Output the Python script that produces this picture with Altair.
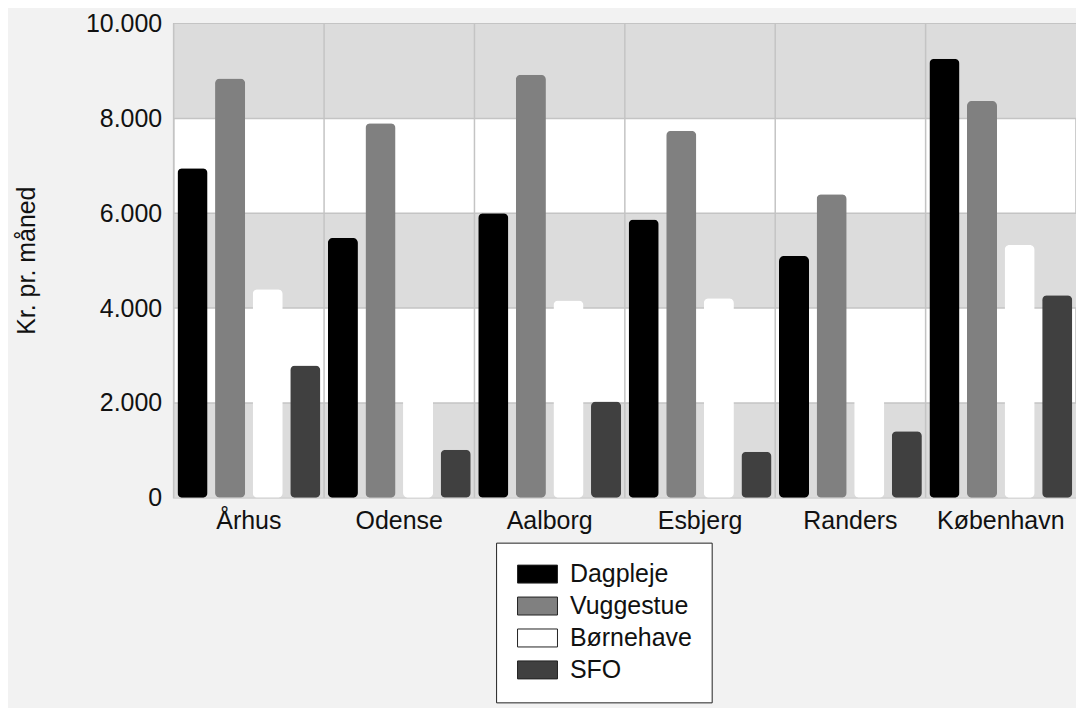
import altair as alt
import pandas as pd

cities = ["Århus", "Odense", "Aalborg", "Esbjerg", "Randers", "København"]
series = ["Dagpleje", "Vuggestue", "Børnehave", "SFO"]
dagpleje = [6950, 5480, 6000, 5870, 5100, 9260]
vuggestue = [8840, 7900, 8920, 7740, 6400, 8370]
boernehave = [4400, 3700, 4160, 4210, 3600, 5330]
sfo = [2790, 1010, 2030, 970, 1400, 4270]
colors = ["#000000", "#808080", "#ffffff", "#404040"]
band_lo = [0, 4000, 8000]
band_hi = [2000, 6000, 10000]
y_ticks = [0, 2000, 4000, 6000, 8000, 10000]
grid_vals = [2000, 4000, 6000, 8000]

W, H = 904, 475
FONT = "Liberation Sans"
FS = 25

rows = []
for s, vals in zip(series, [dagpleje, vuggestue, boernehave, sfo]):
    for c, v in zip(cities, vals):
        rows.append({"city": c, "series": s, "value": v})
df = pd.DataFrame(rows)
bands = pd.DataFrame({"lo": band_lo, "hi": band_hi})
hgrid = pd.DataFrame({"v": grid_vals})
vgrid = pd.DataFrame({"city": cities})

yscale = alt.Scale(domain=[0, 10000], nice=False)
xscale = alt.Scale(domain=cities, paddingInner=0, paddingOuter=0)

xaxis = alt.Axis(title=None, labelAngle=0, labelFontSize=FS, labelPadding=11,
                 ticks=False, domain=False, grid=False, labelColor="#111",
                 labelFont=FONT)
yaxis = alt.Axis(values=y_ticks,
                 labelExpr="replace(format(datum.value, ','), ',', '.')",
                 grid=False, ticks=False, domain=False, labelFontSize=FS,
                 labelPadding=12, labelColor="#111", labelFont=FONT,
                 title="Kr. pr. måned", titleFontSize=FS, titleFont=FONT,
                 titleFontWeight="normal", titleColor="#111",
                 titleX=-147, titleY=237, titleAlign="center",
                 titleBaseline="middle", titleAngle=270)

band_layer = alt.Chart(bands).mark_rect(color="#dcdcdc").encode(
    x=alt.value(0), x2=alt.value(W),
    y=alt.Y("lo:Q", scale=yscale, axis=yaxis),
    y2="hi:Q",
)

hrule = alt.Chart(hgrid).mark_rule(color="#c4c4c4", strokeWidth=1.5).encode(
    x=alt.value(0), x2=alt.value(W),
    y=alt.Y("v:Q", scale=yscale, axis=yaxis),
)

vrule = alt.Chart(vgrid).mark_rule(color="#c4c4c4", strokeWidth=1.5).encode(
    x=alt.X("city:N", sort=cities, scale=xscale, axis=xaxis, bandPosition=0),
    y=alt.value(0), y2=alt.value(H),
)

bars = alt.Chart(df).mark_bar(cornerRadius=5).encode(
    x=alt.X("city:N", sort=cities, scale=xscale, axis=xaxis),
    xOffset=alt.XOffset("series:N", sort=series,
                        scale=alt.Scale(domain=series, paddingInner=0.2, paddingOuter=0.1)),
    y=alt.Y("value:Q", scale=yscale, axis=yaxis),
    color=alt.Color("series:N", sort=series,
                    scale=alt.Scale(domain=series, range=colors),
                    legend=alt.Legend(title=None, orient="none", legendX=323, legendY=520,
                                      fillColor="white", strokeColor="#222", padding=19,
                                      symbolType="M-1,-0.9H3V0.9H-1Z", symbolSize=400,
                                      symbolStrokeColor="#222", symbolStrokeWidth=1,
                                      symbolOpacity=1,
                                      labelFontSize=FS, labelFont=FONT, labelColor="#111",
                                      labelOffset=30, rowPadding=6)),
)

chart = alt.layer(band_layer, hrule, vrule, bars).properties(
    width=W, height=H,
    autosize=alt.AutoSizeParams(type="none"),
    padding={"left": 166, "top": 15, "right": 0, "bottom": 210},
    background="#f2f2f2",
).configure_view(stroke="#bdbdbd", strokeWidth=1.5, fill="white")

chart.save("out.html", embed_options={"renderer": "svg", "actions": False})
